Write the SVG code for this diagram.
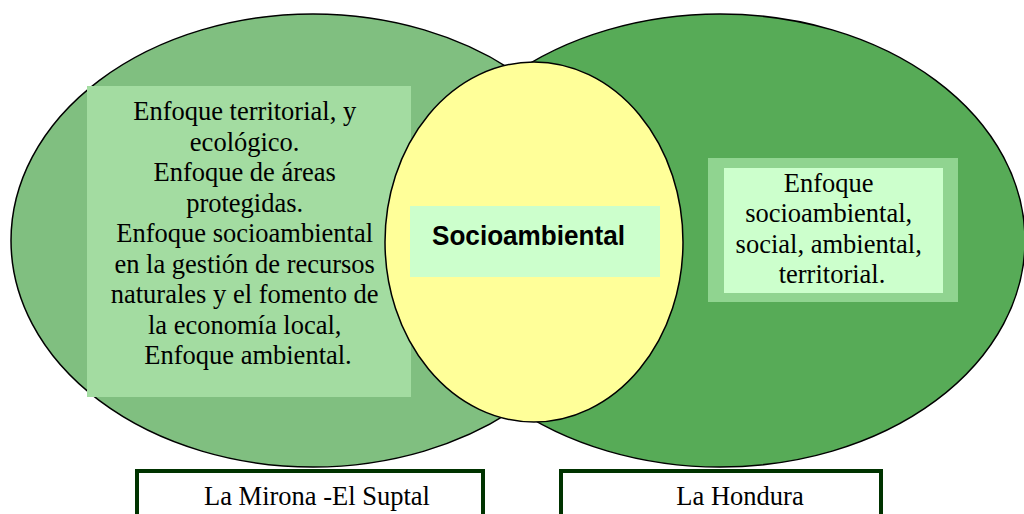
<svg xmlns="http://www.w3.org/2000/svg" width="1024" height="514" viewBox="0 0 1024 514">
<style>
.ser{font-family:"Liberation Serif","Times New Roman",serif;font-size:26.5px;fill:#000;text-anchor:middle}
.ell{stroke:#000;stroke-width:1.5}
.lbl{fill:#fff;stroke:#003300;stroke-width:4}
</style>
<rect width="1024" height="514" fill="#fff"/>
<g id="mirona-set">
<ellipse class="ell" cx="313" cy="240.5" rx="302" ry="226.5" fill="#80BF80"/>
<rect x="87" y="86" width="324" height="311" fill="#A3DCA1"/>
<text class="ser">
<tspan x="248" y="120">Enfoque territorial, y</tspan>
<tspan x="248" y="150.5">ecológico.</tspan>
<tspan x="248" y="181">Enfoque de áreas</tspan>
<tspan x="248" y="211.5">protegidas.</tspan>
<tspan x="248" y="242">Enfoque socioambiental</tspan>
<tspan x="248" y="272.5">en la gestión de recursos</tspan>
<tspan x="248" y="303">naturales y el fomento de</tspan>
<tspan x="248" y="333.5">la economía local,</tspan>
<tspan x="248" y="364">Enfoque ambiental.</tspan>
</text>
</g>
<g id="hondura-set">
<ellipse class="ell" cx="720" cy="240.5" rx="305" ry="226.5" fill="#57AB57"/>
<rect x="708" y="158" width="250" height="144" fill="#90D490"/>
<rect x="724" y="168" width="219" height="125" fill="#CCFFCC"/>
<text class="ser">
<tspan x="832" y="192">Enfoque</tspan>
<tspan x="832" y="222">socioambiental,</tspan>
<tspan x="832" y="253">social, ambiental,</tspan>
<tspan x="832" y="283">territorial.</tspan>
</text>
</g>
<g id="socioambiental">
<ellipse class="ell" cx="534" cy="242" rx="149" ry="180" fill="#FFFF99"/>
<rect x="410" y="206" width="250" height="71" fill="#CCFFCC"/>
<text x="432" y="245" font-family="Liberation Sans, Arial, sans-serif" font-size="27" font-weight="bold" textLength="193" lengthAdjust="spacingAndGlyphs" fill="#000">Socioambiental</text>
</g>
<g id="label-mirona">
<rect class="lbl" x="137" y="471" width="346" height="60"/>
<text class="ser" x="317" y="505">La Mirona -El Suptal</text>
</g>
<g id="label-hondura">
<rect class="lbl" x="561" y="471" width="320" height="60"/>
<text class="ser" x="740" y="505">La Hondura</text>
</g>
<g id="connectors"></g>
</svg>
